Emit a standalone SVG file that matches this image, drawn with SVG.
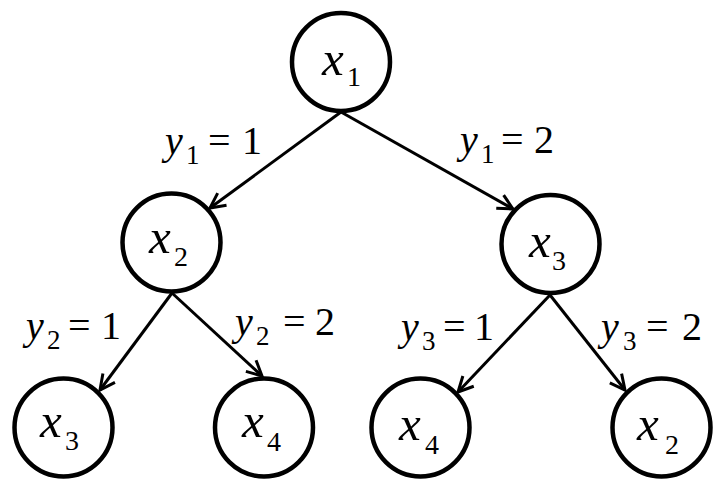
<svg xmlns="http://www.w3.org/2000/svg" width="725" height="492" viewBox="0 0 725 492">
<style>
.node{fill:#fff;stroke:#000;stroke-width:4.5}
.edge{stroke:#000;stroke-width:3;fill:none;marker-end:url(#arr)}
text{font-family:'Liberation Serif','DejaVu Serif',serif;fill:#000}
.v{font-style:italic}
.nv{font-size:49px}
.ns{font-size:28px}
.lv{font-size:40px}
.ls{font-size:27px}
</style>
<defs>
<marker id="arr" markerUnits="userSpaceOnUse" markerWidth="30" markerHeight="30" viewBox="-20 -15 30 30" refX="0" refY="0" orient="auto">
<path d="M-15,-7.5 L0,0 L-15,7.5" fill="none" stroke="#000" stroke-width="3"/>
</marker>
</defs>
<rect width="725" height="492" fill="#fff"/>
<g id="connectors">
<line class="edge" x1="341" y1="112" x2="210" y2="208"/>
<line class="edge" x1="341" y1="112" x2="513" y2="209"/>
<line class="edge" x1="172" y1="293" x2="100" y2="390"/>
<line class="edge" x1="172" y1="293" x2="262" y2="376"/>
<line class="edge" x1="550" y1="295" x2="458" y2="392"/>
<line class="edge" x1="550" y1="295" x2="625" y2="390"/>
</g>
<g id="labels">
<text><tspan class="v lv" x="165" y="154">y</tspan><tspan class="ls" x="186" y="164">1</tspan><tspan class="lv" x="208" y="154">=</tspan><tspan class="lv" x="242" y="154">1</tspan></text>
<text><tspan class="v lv" x="460" y="153">y</tspan><tspan class="ls" x="481" y="163">1</tspan><tspan class="lv" x="501" y="153">=</tspan><tspan class="lv" x="534" y="153">2</tspan></text>
<text><tspan class="v lv" x="26" y="339">y</tspan><tspan class="ls" x="47" y="349">2</tspan><tspan class="lv" x="68" y="339">=</tspan><tspan class="lv" x="101" y="339">1</tspan></text>
<text><tspan class="v lv" x="235" y="335">y</tspan><tspan class="ls" x="256" y="345">2</tspan><tspan class="lv" x="283" y="335">=</tspan><tspan class="lv" x="315" y="335">2</tspan></text>
<text><tspan class="v lv" x="401" y="340">y</tspan><tspan class="ls" x="422" y="350">3</tspan><tspan class="lv" x="443" y="340">=</tspan><tspan class="lv" x="474" y="340">1</tspan></text>
<text><tspan class="v lv" x="601" y="340">y</tspan><tspan class="ls" x="623" y="350">3</tspan><tspan class="lv" x="646" y="340">=</tspan><tspan class="lv" x="682" y="340">2</tspan></text>
</g>
<g id="node-x1"><circle class="node" cx="341" cy="62" r="49"/><text><tspan class="v nv" x="322" y="75">x</tspan><tspan class="ns" x="347" y="86">1</tspan></text></g>
<g id="node-x2"><circle class="node" cx="171.5" cy="242.5" r="49"/><text><tspan class="v nv" x="149" y="253">x</tspan><tspan class="ns" x="174" y="266">2</tspan></text></g>
<g id="node-x3"><circle class="node" cx="550.5" cy="244" r="49"/><text><tspan class="v nv" x="529" y="257">x</tspan><tspan class="ns" x="552" y="270">3</tspan></text></g>
<g id="node-x3b"><circle class="node" cx="63.5" cy="427.5" r="49"/><text><tspan class="v nv" x="40" y="437">x</tspan><tspan class="ns" x="65" y="450">3</tspan></text></g>
<g id="node-x4"><circle class="node" cx="264" cy="427.5" r="49"/><text><tspan class="v nv" x="242" y="437">x</tspan><tspan class="ns" x="267" y="451">4</tspan></text></g>
<g id="node-x4b"><circle class="node" cx="420.5" cy="427.5" r="49"/><text><tspan class="v nv" x="399" y="440">x</tspan><tspan class="ns" x="425" y="454">4</tspan></text></g>
<g id="node-x2b"><circle class="node" cx="661.5" cy="427.5" r="49"/><text><tspan class="v nv" x="637" y="440">x</tspan><tspan class="ns" x="665" y="454">2</tspan></text></g>
</svg>
